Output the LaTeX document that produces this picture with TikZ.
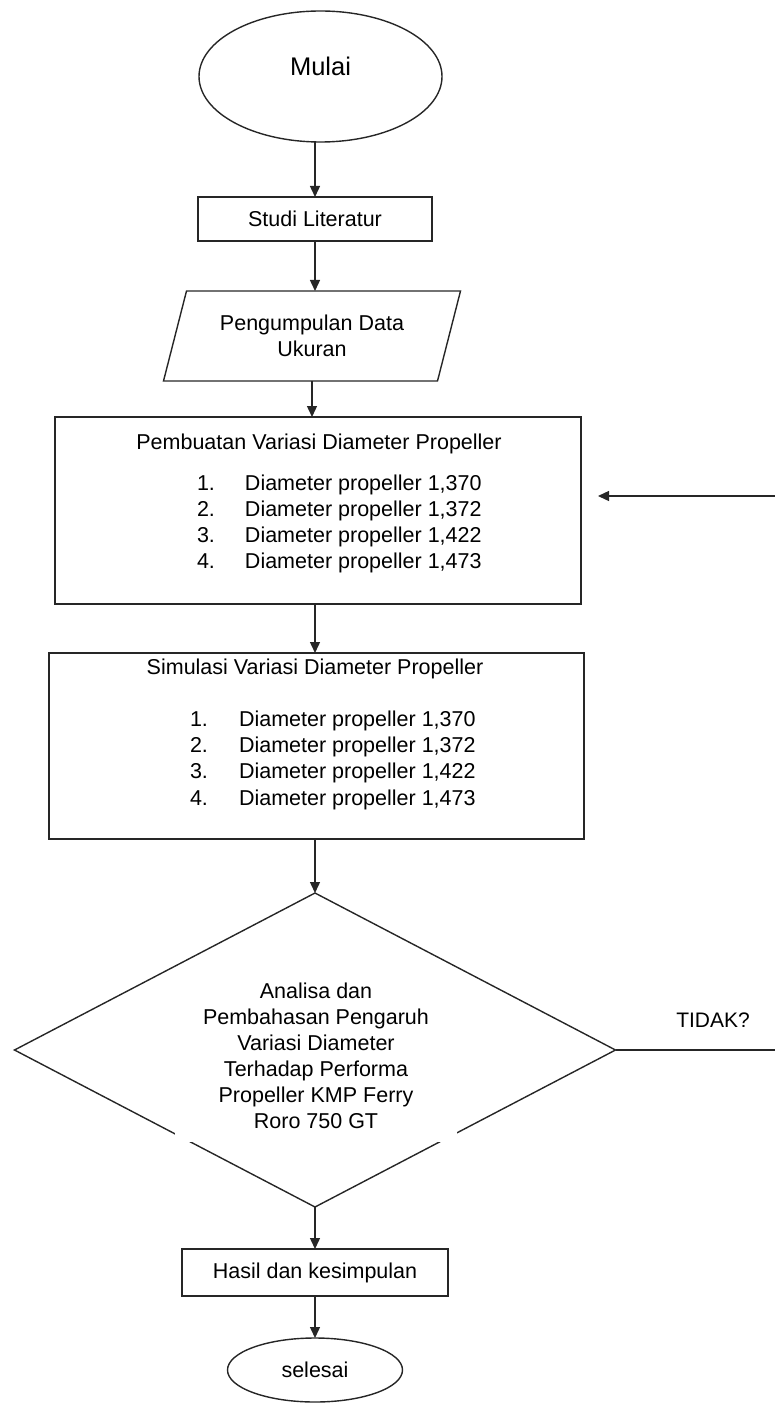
\documentclass[tikz,border=0pt]{standalone}
\usepackage{fontspec}
\setmainfont{Liberation Sans}
\usetikzlibrary{shapes.geometric,arrows.meta}
\begin{document}
\begin{tikzpicture}[x=1pt,y=-1pt,
  line width=1.4pt,
  every node/.style={inner sep=0pt, outer sep=0pt, font=\fontsize{21.5}{26}\selectfont, text=black},
  box/.style={draw=black!85, rectangle},
  term/.style={draw=black!85, ellipse},
  arr/.style={draw=black!85, -{Triangle[length=11pt,width=10pt]}},
  plain/.style={draw=black!85},
  row/.style={anchor=base west},
]
\useasboundingbox (0,0) rectangle (775,1404);

% start
\node[term, minimum width=243pt, minimum height=131pt,
  label={[font=\fontsize{25.5}{30}\selectfont, text=black, yshift=10.5pt]center:Mulai}] (mulai) at (320.5,76.5) {};

% literature
\node[box, minimum width=234pt, minimum height=44pt] (studi) at (315,219) {Studi Literatur};

% data (parallelogram)
\node[minimum width=274pt, minimum height=90pt, align=center] (data) at (312,336) {Pengumpulan Data\\Ukuran};
\draw[plain] ([xshift=11.5pt]data.north west) -- ([xshift=11.5pt]data.north east)
  -- ([xshift=-11.5pt]data.south east) -- ([xshift=-11.5pt]data.south west) -- cycle;

% box 1
\node[box, minimum width=526pt, minimum height=187pt] (make) at (318,510.5) {};
\node[anchor=base] (maket) at (319,449.5) {Pembuatan Variasi Diameter Propeller};
\node[row] (m1) at (197,490) {\makebox[48pt][l]{1.}Diameter propeller 1,370};
\node[row] (m2) at (197,516) {\makebox[48pt][l]{2.}Diameter propeller 1,372};
\node[row] (m3) at (197,542) {\makebox[48pt][l]{3.}Diameter propeller 1,422};
\node[row] (m4) at (197,568) {\makebox[48pt][l]{4.}Diameter propeller 1,473};

% box 2
\node[box, minimum width=535pt, minimum height=186pt] (sim) at (316.5,746) {};
\node[anchor=base] (simt) at (315,674.7) {Simulasi Variasi Diameter Propeller};
\node[row] (s1) at (190,726) {\makebox[49pt][l]{1.}Diameter propeller 1,370};
\node[row] (s2) at (190,752) {\makebox[49pt][l]{2.}Diameter propeller 1,372};
\node[row] (s3) at (190,778) {\makebox[49pt][l]{3.}Diameter propeller 1,422};
\node[row] (s4) at (190,805) {\makebox[49pt][l]{4.}Diameter propeller 1,473};

% decision
\node[draw=black!85, diamond, minimum width=601pt, minimum height=314pt] (dec) at (315,1050) {};
\node[fill=white, minimum width=282pt, minimum height=172pt, align=center] (dect) at (316,1056)
  {Analisa dan\\Pembahasan Pengaruh\\Variasi Diameter\\Terhadap Performa\\Propeller KMP Ferry\\Roro 750 GT};
\node[font=\fontsize{21}{25}\selectfont] (tidak) at (713,1020) {TIDAK?};

% results and end
\node[box, minimum width=266pt, minimum height=47pt] (hasil) at (315,1272.5) {Hasil dan kesimpulan};
\node[term, minimum width=175pt, minimum height=64pt] (akhir) at (315,1370) {selesai};

% connectors
\draw[arr] (studi.north |- mulai.south) -- (studi.north);
\draw[arr] (studi.south) -- (studi.south |- data.north);
\draw[arr] (data.south) -- (data.south |- make.north);
\draw[arr] (dec.north |- make.south) -- (dec.north |- sim.north);
\draw[arr] (dec.north |- sim.south) -- (dec.north);
\draw[arr] (dec.south) -- (dec.south |- hasil.north);
\draw[arr] (hasil.south) -- (hasil.south |- akhir.north);

% loop back
\coordinate (r1) at (775,1050);
\coordinate (r2) at (775,496);
\draw[plain] (dec.east) -- (r1);
\draw[arr, shorten >=17pt] (r2) -- (make.east |- r2);
\end{tikzpicture}
\end{document}
